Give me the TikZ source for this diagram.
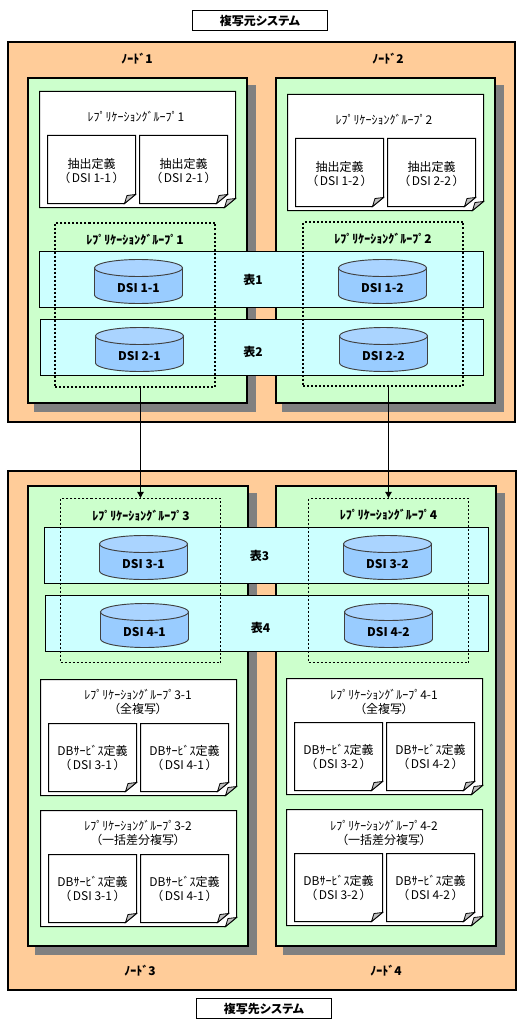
\documentclass[tikz,border=0pt]{standalone}
\usepackage{fontspec}
\setmainfont{Noto Sans CJK JP}[RawFeature=+palt]
\definecolor{outerc}{HTML}{FFCC99}
\definecolor{nodec}{HTML}{CCFFCC}
\definecolor{tablec}{HTML}{CCFFFF}
\definecolor{cylc}{HTML}{99CCFF}
\definecolor{cyltop}{HTML}{AAD4FF}
\definecolor{shadowc}{HTML}{808080}
\definecolor{foldc}{HTML}{C0C0C0}
\definecolor{cylline}{HTML}{404040}
\usetikzlibrary{arrows.meta}
\tikzset{
  px/.style={x=0.75pt,y=-0.75pt},
  plain box/.style={rectangle,draw=black,inner sep=0pt,outer sep=0pt},
  titlebox/.style={plain box,fill=white,line width=0.75pt},
  sitebox/.style={plain box,fill=outerc,line width=1.5pt},
  nodebox/.style={plain box,fill=nodec,line width=1.5pt},
  shadowbox/.style={rectangle,fill=shadowc,inner sep=0pt,outer sep=0pt},
  tablebox/.style={plain box,fill=tablec,line width=0.75pt},
  groupthick/.style={plain box,line width=1.5pt,dash pattern=on 1.5pt off 1.5pt},
  groupthin/.style={plain box,line width=0.75pt,dash pattern=on 1.5pt off 1.5pt},
  doctext/.style={align=center,font=\fontsize{9}{10.5}\selectfont,inner sep=0pt},
  boldtext/.style={font=\fontsize{9}{10.5}\selectfont\bfseries,inner sep=0pt},
  docline/.style={draw=black,fill=white,line width=0.75pt},
  foldline/.style={draw=black,fill=foldc,line width=0.6pt},
  cylbody/.style={draw=cylline,fill=cylc,line width=0.7pt},
  cylcap/.style={draw=cylline,fill=cyltop,line width=0.7pt},
  flow/.style={draw=black,line width=0.75pt,-{Latex[length=5pt,width=5.5pt]}},
}
% rectangle node from pixel corners
\newcommand{\pxbox}[7]{%
  \node[#2,minimum width={(#5-#3)*0.75pt},minimum height={(#6-#4)*0.75pt}] (#1) at ({(#3+#5)/2},{(#4+#6)/2}) {#7};}
% folded note: name, x1,y1,x2,y2, text x, text y, text
\newcommand{\pxdoc}[8]{%
  \path[docline] (#2,#3) -- (#4,#3) -- ({#4},{#5-9}) -- ({#4-11},#5) -- (#2,#5) -- cycle;
  \path[foldline] ({#4-11},#5) -- ({#4-8.5},{#5-8}) -- ({#4},{#5-9}) -- cycle;
  \node[doctext] (#1) at (#6,#7) {#8};}
% small note inside a group note: name, x1, y1, text, text offset
\newcommand{\pxnote}[5]{%
  \pxdoc{#1}{#2}{#3}{#2+88}{#3+68}{#2+44}{#3+34+#5}{#4}}
% cylinder: name, x1, y1, label
\newcommand{\pxcyl}[4]{%
  \path[cylbody] (#2,{#3+8.5}) -- (#2,{#3+35.5})
    arc[start angle=180,end angle=0,x radius=44,y radius=8.5]
    -- ({#2+88},{#3+8.5}) -- cycle;
  \path[cylcap] ({#2+44},{#3+8.5}) ellipse [x radius=44,y radius=8.5];
  \node[boldtext] (#1) at ({#2+44},{#3+28.5}) {#4};}
% DSI caption in wide brackets
\newcommand{\dsi}[1]{（\kern1.5pt DSI #1\kern1.5pt ）}
\begin{document}
\begin{tikzpicture}[px]
\useasboundingbox (0,0) rectangle (524,1027);
\fill[white] (0,0) rectangle (524,1027);
% titles
\pxbox{srctitle}{titlebox,boldtext}{192.5}{10.5}{327.5}{30.5}{複写元システム}
\pxbox{dsttitle}{titlebox,boldtext}{196.5}{998.5}{331.5}{1018.5}{複写先システム}
% sites
\pxbox{srcsite}{sitebox}{7.5}{42.5}{515}{421.5}{}
\pxbox{dstsite}{sitebox}{8}{470.5}{515.5}{990}{}
% shadows
\pxbox{shadowa}{shadowbox}{34}{85}{256}{412}{}
\pxbox{shadowb}{shadowbox}{282}{85}{504}{412}{}
\pxbox{shadowc}{shadowbox}{35}{493}{257}{955}{}
\pxbox{shadowd}{shadowbox}{283}{493}{505}{955}{}
% cluster nodes
\pxbox{nodea}{nodebox}{27.5}{78.5}{247}{403}{}
\pxbox{nodeb}{nodebox}{275.5}{78.5}{495}{403}{}
\pxbox{nodec}{nodebox}{28}{486}{248}{945.5}{}
\pxbox{noded}{nodebox}{276}{486}{496}{945.5}{}
% node captions
\node[boldtext] (capa) at (137,59) {ﾉｰﾄﾞ1};
\node[boldtext] (capb) at (388,59) {ﾉｰﾄﾞ2};
\node[boldtext] (capc) at (140,970.5) {ﾉｰﾄﾞ3};
\node[boldtext] (capd) at (386,970.5) {ﾉｰﾄﾞ4};
% source group notes
\pxdoc{grpa}{39.5}{91.5}{235.5}{207.5}{136}{116.5}{ﾚﾌﾟﾘｹｰｼｮﾝｸﾞﾙｰﾌﾟ1}
\pxnote{exaa}{47.5}{135.5}{抽出定義\\\dsi{1-1}}{1.5}
\pxnote{exab}{139.5}{135.5}{抽出定義\\\dsi{2-1}}{1.5}
\pxdoc{grpb}{287.5}{94.5}{483.5}{210.5}{384}{119.5}{ﾚﾌﾟﾘｹｰｼｮﾝｸﾞﾙｰﾌﾟ2}
\pxnote{exba}{295.5}{138.5}{抽出定義\\\dsi{1-2}}{1.5}
\pxnote{exbb}{387.5}{138.5}{抽出定義\\\dsi{2-2}}{1.5}
% target group notes
\pxdoc{grpca}{40.5}{679.5}{236.5}{795.5}{138}{702}{ﾚﾌﾟﾘｹｰｼｮﾝｸﾞﾙｰﾌﾟ3-1\\（全複写）}
\pxnote{svcaa}{48.5}{723.5}{DBｻｰﾋﾞｽ定義\\\dsi{3-1}}{0.5}
\pxnote{svcab}{140.5}{723.5}{DBｻｰﾋﾞｽ定義\\\dsi{4-1}}{0.5}
\pxdoc{grpcb}{40.5}{810.5}{236.5}{926.5}{138}{833}{ﾚﾌﾟﾘｹｰｼｮﾝｸﾞﾙｰﾌﾟ3-2\\（一括差分複写）}
\pxnote{svcba}{48.5}{854.5}{DBｻｰﾋﾞｽ定義\\\dsi{3-1}}{0.5}
\pxnote{svcbb}{140.5}{854.5}{DBｻｰﾋﾞｽ定義\\\dsi{4-1}}{0.5}
\pxdoc{grpda}{286.5}{678.5}{482.5}{794.5}{384}{702}{ﾚﾌﾟﾘｹｰｼｮﾝｸﾞﾙｰﾌﾟ4-1\\（全複写）}
\pxnote{svdaa}{294.5}{722.5}{DBｻｰﾋﾞｽ定義\\\dsi{3-2}}{0.5}
\pxnote{svdab}{386.5}{722.5}{DBｻｰﾋﾞｽ定義\\\dsi{4-2}}{0.5}
\pxdoc{grpdb}{286.5}{809.5}{482.5}{925.5}{384}{833}{ﾚﾌﾟﾘｹｰｼｮﾝｸﾞﾙｰﾌﾟ4-2\\（一括差分複写）}
\pxnote{svdba}{294.5}{853.5}{DBｻｰﾋﾞｽ定義\\\dsi{3-2}}{0.5}
\pxnote{svdbb}{386.5}{853.5}{DBｻｰﾋﾞｽ定義\\\dsi{4-2}}{0.5}
% tables
\pxbox{taba}{tablebox}{39.5}{251.5}{483.5}{307.5}{}
\pxbox{tabb}{tablebox}{40.5}{319.5}{483.5}{375.5}{}
\pxbox{tabc}{tablebox}{44.5}{527.5}{488.5}{583.5}{}
\pxbox{tabd}{tablebox}{45.5}{595.5}{488.5}{651.5}{}
\node[boldtext] (laba) at (253,280) {表1};
\node[boldtext] (labb) at (253,352) {表2};
\node[boldtext] (labc) at (259.5,556) {表3};
\node[boldtext] (labd) at (260.5,627.5) {表4};
% replication-group outlines
\pxbox{dota}{groupthick}{55}{223}{215}{386.5}{}
\pxbox{dotb}{groupthick}{303}{222}{463}{385.5}{}
\pxbox{dotc}{groupthin}{60.5}{498.5}{220.5}{662.5}{}
\pxbox{dotd}{groupthin}{308.5}{498.5}{468.5}{662.5}{}
\node[boldtext] (rga) at (135,240) {ﾚﾌﾟﾘｹｰｼｮﾝｸﾞﾙｰﾌﾟ1};
\node[boldtext] (rgb) at (383,239) {ﾚﾌﾟﾘｹｰｼｮﾝｸﾞﾙｰﾌﾟ2};
\node[boldtext] (rgc) at (141,515.5) {ﾚﾌﾟﾘｹｰｼｮﾝｸﾞﾙｰﾌﾟ3};
\node[boldtext] (rgd) at (388.5,515) {ﾚﾌﾟﾘｹｰｼｮﾝｸﾞﾙｰﾌﾟ4};
% cylinders
\pxcyl{cyaa}{94.5}{259.5}{DSI 1-1}
\pxcyl{cyab}{338.5}{259.5}{DSI 1-2}
\pxcyl{cyba}{95.5}{327.5}{DSI 2-1}
\pxcyl{cybb}{339.5}{327.5}{DSI 2-2}
\pxcyl{cyca}{99.5}{535.5}{DSI 3-1}
\pxcyl{cycb}{343.5}{535.5}{DSI 3-2}
\pxcyl{cyda}{100.5}{603.5}{DSI 4-1}
\pxcyl{cydb}{344.5}{603.5}{DSI 4-2}
% flows
\draw[flow] (dotc.north |- dota.south) -- (dotc.north);
\draw[flow] (dotd.north |- dotb.south) -- (dotd.north);
\end{tikzpicture}
\end{document}
